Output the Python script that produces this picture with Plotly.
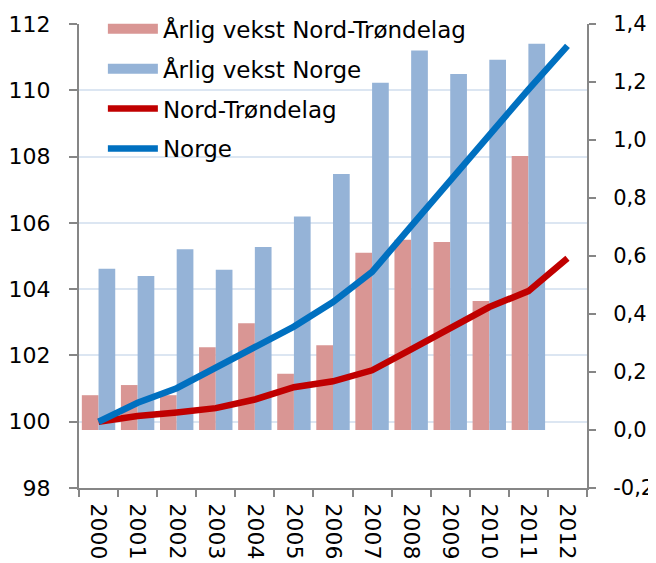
import plotly.graph_objects as go

years = ["2000", "2001", "2002", "2003", "2004", "2005", "2006",
         "2007", "2008", "2009", "2010", "2011", "2012"]
bar_years = years[:12]

growth_nt = [0.120, 0.155, 0.120, 0.285, 0.368, 0.194, 0.292,
             0.611, 0.656, 0.648, 0.445, 0.945]
growth_no = [0.556, 0.531, 0.623, 0.553, 0.631, 0.736, 0.883,
             1.197, 1.309, 1.228, 1.277, 1.332]

index_nt = [100.0, 100.17, 100.28, 100.41, 100.67, 101.04, 101.22,
            101.55, 102.18, 102.80, 103.46, 103.94, 104.93]
index_no = [100.0, 100.57, 101.01, 101.63, 102.22, 102.87, 103.61,
            104.52, 105.90, 107.28, 108.64, 110.02, 111.34]

left_ticks = [98, 100, 102, 104, 106, 108, 110, 112]
right_ticks = [-0.2, 0.0, 0.2, 0.4, 0.6, 0.8, 1.0, 1.2, 1.4]
right_ticktext = ["-0,2", "0,0", "0,2", "0,4", "0,6", "0,8", "1,0", "1,2", "1,4"]

FONT = "DejaVu Sans"
AXIS = "#868686"
RED_BAR = "#D99694"
BLUE_BAR = "#95B3D7"

fig = go.Figure()
fig.add_trace(go.Bar(x=bar_years, y=growth_nt, name="Årlig vekst Nord-Trøndelag",
                     marker=dict(color=RED_BAR, line=dict(width=0)),
                     yaxis="y", showlegend=False))
fig.add_trace(go.Bar(x=bar_years, y=growth_no, name="Årlig vekst Norge",
                     marker=dict(color=BLUE_BAR, line=dict(width=0)),
                     yaxis="y", showlegend=False))
# legend entries for the bar series (wide rectangular swatches)
fig.add_trace(go.Scatter(x=[None], y=[None], name="Årlig vekst Nord-Trøndelag",
                         mode="lines", line=dict(color=RED_BAR, width=13),
                         yaxis="y2", legendgroup="a", hoverinfo="skip"))
fig.add_trace(go.Scatter(x=[None], y=[None], name="Årlig vekst Norge",
                         mode="lines", line=dict(color=BLUE_BAR, width=13),
                         yaxis="y2", legendgroup="b", hoverinfo="skip"))
fig.add_trace(go.Scatter(x=years, y=index_nt, name="Nord-Trøndelag", mode="lines",
                         line=dict(color="#C00000", width=6.5),
                         yaxis="y2", legendgroup="c"))
fig.add_trace(go.Scatter(x=years, y=index_no, name="Norge", mode="lines",
                         line=dict(color="#0070C0", width=6.5),
                         yaxis="y2", legendgroup="d"))

# page body has an 8px margin: figure sized to fit the 656x563 window
fig.update_layout(
    width=648, height=555,
    margin=dict(l=71, r=69, t=16, b=75, pad=0, autoexpand=False),
    paper_bgcolor="white", plot_bgcolor="white",
    font=dict(family=FONT, size=22, color="black"),
    barmode="group", bargap=0.145, bargroupgap=0,
    showlegend=True,
    legend=dict(x=0.047, y=1.036, xanchor="left", yanchor="top",
                bgcolor="rgba(0,0,0,0)", font=dict(family=FONT, size=23),
                itemwidth=50, tracegroupgap=7, traceorder="grouped"),
    xaxis=dict(type="category", categoryorder="array", categoryarray=years,
               range=[-0.5, 12.5], showline=True, linecolor=AXIS, linewidth=2,
               ticks="outside", ticklen=7, tickcolor=AXIS, tickwidth=2,
               tickson="boundaries", tickangle=90, showgrid=False,
               automargin=False,
               tickfont=dict(family=FONT, size=22), ticklabelstandoff=9),
    yaxis=dict(range=[-0.2, 1.4], side="right", tickvals=right_ticks,
               ticktext=right_ticktext, showgrid=False, zeroline=False,
               showline=True, linecolor=AXIS, linewidth=2, ticks="outside",
               ticklen=7, tickcolor=AXIS, tickwidth=2, anchor="x",
               automargin=False,
               tickfont=dict(family=FONT, size=21), ticklabelstandoff=13),
    yaxis2=dict(range=[98, 112], side="left", overlaying="y", anchor="x",
                tickvals=left_ticks, showgrid=True, gridcolor="#DCE6F2",
                gridwidth=2, zeroline=False, showline=True, linecolor=AXIS,
                linewidth=2, ticks="outside", ticklen=8, tickcolor=AXIS,
                tickwidth=2, tickfont=dict(family=FONT, size=22),
                automargin=False, ticklabelstandoff=14),
)

fig.write_html("out.html")
